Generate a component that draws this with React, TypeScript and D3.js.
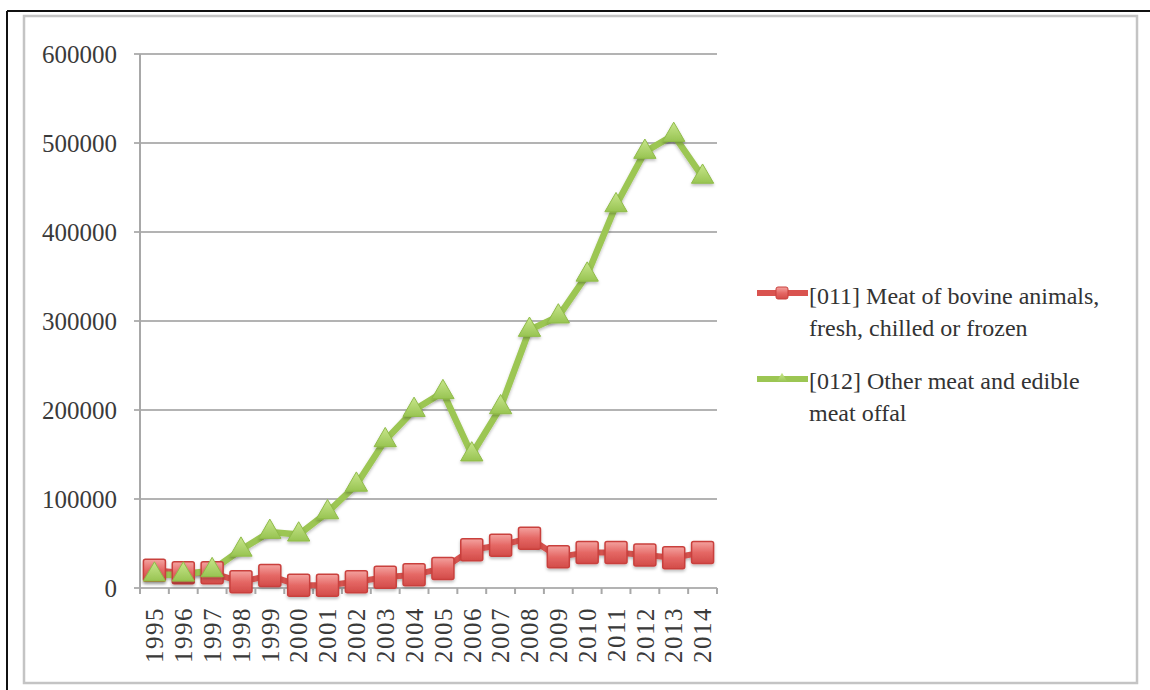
import React from "react";
import * as d3 from "d3";

const years = ["1995","1996","1997","1998","1999","2000","2001","2002","2003","2004","2005","2006","2007","2008","2009","2010","2011","2012","2013","2014"];
const bovine = [20000,17000,17000,7000,14000,3000,3000,7000,12000,15000,22000,43000,48000,56000,35000,40000,40000,37000,34000,40000];
const otherMeat = [15000,15000,20000,43000,63000,60000,85000,116000,166000,200000,220000,150000,203000,290000,305000,352000,430000,490000,509000,462000];
const yTicks = [0,100000,200000,300000,400000,500000,600000];
const legendBovine = ["[011] Meat of bovine animals,", "fresh, chilled or frozen"];
const legendOther = ["[012] Other meat and edible", "meat offal"];

const FONT = "'Liberation Serif', 'DejaVu Serif', serif";

export default function App() {
  const W = 1150, H = 690;
  const left = 140, right = 717, top = 54, bottom = 588;
  const x = d3.scaleBand<string>().domain(years).range([left, right]);
  const y = d3.scaleLinear().domain([0, 600000]).range([bottom, top]);
  const cx = (d: string) => (x(d) as number) + x.bandwidth() / 2;
  const line = d3.line<number>().x((_, i) => cx(years[i])).y((v) => y(v));
  const tri = d3.symbol().type(d3.symbolTriangle).size(215)();
  const boundaries = years.map((d) => x(d) as number).concat([right]);

  return (
    <div style={{ position: "absolute", left: 0, top: 0 }}>
      <svg width={W} height={H} style={{ display: "block", background: "#fff" }}>
        <defs>
          <linearGradient id="redG" x1="0" y1="0" x2="0" y2="1">
            <stop offset="0" stopColor="#f4a3a0" />
            <stop offset="0.5" stopColor="#e56865" />
            <stop offset="1" stopColor="#d24b48" />
          </linearGradient>
          <linearGradient id="greenG" x1="0" y1="0" x2="0" y2="1">
            <stop offset="0" stopColor="#c8e68c" />
            <stop offset="1" stopColor="#98c452" />
          </linearGradient>
          <filter id="sh" x="-50%" y="-50%" width="200%" height="200%">
            <feDropShadow dx="0" dy="2" stdDeviation="1.5" floodColor="#000" floodOpacity="0.25" />
          </filter>
        </defs>
        {/* frames */}
        <line x1={7} y1={11} x2={W} y2={11} stroke="#111" strokeWidth={2} />
        <line x1={7} y1={11} x2={7} y2={H} stroke="#111" strokeWidth={2} />
        <rect x={24} y={16} width={1113} height={667} fill="none" stroke="#c4c4c4" strokeWidth={2.5} />

        {/* gridlines */}
        {yTicks.map((t) => (
          <line key={t} x1={left - 6} x2={right} y1={y(t)} y2={y(t)} stroke="#b3b3b3" strokeWidth={2} />
        ))}
        {/* y axis */}
        <line x1={left} x2={left} y1={top} y2={bottom} stroke="#a8a8a8" strokeWidth={2} />
        {/* x ticks */}
        {boundaries.map((b, i) => (
          <line key={i} x1={b} x2={b} y1={bottom} y2={bottom + 6} stroke="#a8a8a8" strokeWidth={2} />
        ))}
        {/* y labels */}
        {yTicks.map((t) => (
          <text key={t} x={117} y={y(t)} dy="0.35em" textAnchor="end" fontFamily={FONT} fontSize={25} fill="#3a3a3a">
            {t}
          </text>
        ))}
        {/* x labels */}
        {years.map((d) => (
          <text key={d} transform={`translate(${cx(d)},${607}) rotate(-90)`} dy="0.35em" textAnchor="end" fontFamily={FONT} fontSize={25} letterSpacing={1.5} fill="#3a3a3a">
            {d}
          </text>
        ))}

        {/* series lines */}
        <path d={line(bovine) || ""} fill="none" stroke="#d9534f" strokeWidth={6} strokeLinejoin="round" filter="url(#sh)" />
        <path d={line(otherMeat) || ""} fill="none" stroke="#9cc653" strokeWidth={6.5} strokeLinejoin="round" filter="url(#sh)" />
        {/* markers */}
        {bovine.map((v, i) => (
          <rect key={i} x={cx(years[i]) - 11} y={y(v) - 11} width={22} height={22} rx={2} fill="url(#redG)" stroke="#c9403d" strokeWidth={1.5} filter="url(#sh)" />
        ))}
        {otherMeat.map((v, i) => (
          <path key={i} d={tri || ""} transform={`translate(${cx(years[i])},${y(v)})`} fill="url(#greenG)" stroke="#8fbb48" strokeWidth={1} filter="url(#sh)" />
        ))}

        {/* legend */}
        <line x1={757} x2={808} y1={293} y2={293} stroke="#d9534f" strokeWidth={6} />
        <rect x={776} y={287} width={12} height={12} rx={2} fill="url(#redG)" stroke="#c9403d" />
        {legendBovine.map((s, i) => (
          <text key={s} x={809} y={296 + i * 32} dy="0.35em" fontFamily={FONT} fontSize={24} fill="#333">{s}</text>
        ))}
        <line x1={757} x2={808} y1={379} y2={379} stroke="#9cc653" strokeWidth={6} />
        <path d={d3.symbol().type(d3.symbolTriangle).size(50)() || ""} transform="translate(782,379)" fill="url(#greenG)" />
        {legendOther.map((s, i) => (
          <text key={s} x={809} y={381 + i * 32} dy="0.35em" fontFamily={FONT} fontSize={24} fill="#333">{s}</text>
        ))}
      </svg>
    </div>
  );
}
